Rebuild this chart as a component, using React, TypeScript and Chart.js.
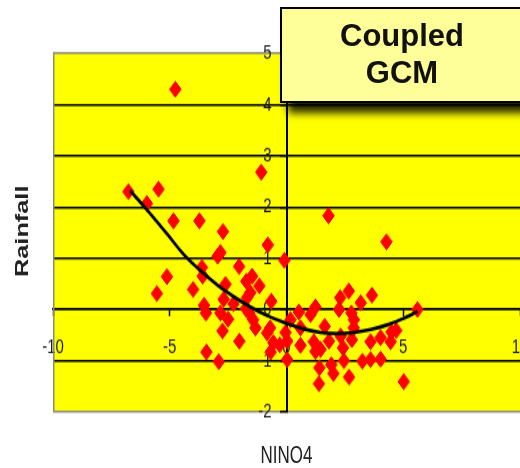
import React, { useEffect, useRef } from "react";
import { Chart, registerables } from "chart.js";

Chart.register(...registerables);

// ---- data ----
const nino4: number[] = [
  -4.76, -6.77, -5.48, -5.98, -4.84, -3.73, -2.72, -2.83, -2.95, -1.08,
  -0.8, -0.09, 1.8, 4.28, -5.12, -5.55, -4.0, -3.62, -3.59, -3.53,
  -3.45, -2.03, -1.72, -1.47, -1.16, -2.61, -2.69, -2.27, -2.83, -2.5,
  -2.74, -2.02, -3.43, -2.9, -1.69, -1.74, -1.6, -1.43, -1.33, -0.65,
  -0.83, -0.56, -0.68, -0.29, 0.03, -0.04, 0.53, 0.6, 1.24, 1.03,
  1.17, 1.46, 1.41, 1.39, 2.01, 1.92, 1.64, 1.82, 2.3, 2.25,
  2.67, 2.78, 2.89, 3.18, 3.66, 2.8, 2.42, 2.46, 2.68, 3.25,
  3.6, 4.03, 3.6, 4.03, 4.46, 4.7, 5.02, 5.61, 0.03, 1.24,
  -1.55, 0.17, 0.6, 2.88, 2.32, -0.7, 4.5,
];
const rainfall: number[] = [
  4.3, 2.3, 2.35, 2.07, 1.73, 1.73, 1.52, 1.11, 1.04, 2.68,
  1.26, 0.96, 1.83, 1.32, 0.64, 0.31, 0.39, 0.82, 0.65, 0.08,
  -0.07, 0.84, 0.55, 0.65, 0.46, 0.49, 0.2, 0.11, -0.07, -0.19,
  -0.42, -0.62, -0.83, -1.02, 0.23, 0.02, -0.07, -0.2, -0.36, 0.16,
  -0.46, -0.65, -0.83, -0.69, -0.98, -0.45, -0.05, -0.7, 0.05, -0.1,
  -0.63, -0.78, -1.14, -1.45, -1.25, -1.08, -0.33, -0.62, 0.23, 0.0,
  0.36, -0.07, -0.2, 0.13, 0.28, -0.59, -0.75, -1.0, -1.32, -1.01,
  -0.98, -0.97, -0.63, -0.55, -0.63, -0.41, -1.41, 0.0, -0.62, -0.82,
  0.33, -0.2, -0.36, -0.36, -0.52, -0.36, -0.44,
];
// trend curve
const trendX: number[] = [
  -6.7, -5.98, -5.12, -4.41, -3.69, -2.97, -2.26, -1.55, -0.83, -0.12,
  0.74, 1.46, 2.18, 2.89, 3.61, 4.32, 5.03, 5.61,
];
const trendY: number[] = [
  2.32, 1.95, 1.48, 1.08, 0.76, 0.48, 0.25, 0.05, -0.12, -0.25,
  -0.38, -0.45, -0.47, -0.45, -0.39, -0.3, -0.17, -0.04,
];
const xTicks: number[] = [-10, -5, 0, 5, 10];
const yTicks: number[] = [-2, -1, 0, 1, 2, 3, 4, 5];
const titleLines: string[] = ["Coupled", "GCM"];
const xTitle = "NINO4";
const yTitle = "Rainfall";

const W = 520;
const H = 468;
const CH = 342;
const SY = H / CH;
const FONT = '"Liberation Sans", Arial, Helvetica, sans-serif';

const plotBg = {
  id: "plotBg",
  beforeDraw(chart: any) {
    const { ctx, chartArea } = chart;
    const { left, top, right, bottom } = chartArea;
    ctx.save();
    ctx.fillStyle = "#ffff00";
    ctx.fillRect(left, top, right - left, bottom - top);
    ctx.restore();
  },
  beforeDatasetsDraw(chart: any) {
    const { ctx, chartArea } = chart;
    const { left, top, bottom } = chartArea;
    ctx.save();
    ctx.strokeStyle = "#8c8c7a";
    ctx.lineWidth = 1.5;
    ctx.beginPath();
    ctx.moveTo(left + 0.75, top);
    ctx.lineTo(left + 0.75, bottom);
    ctx.stroke();
    ctx.restore();
  },
};

export default function App() {
  const ref = useRef<HTMLCanvasElement | null>(null);

  useEffect(() => {
    if (!ref.current) return;
    const chart = new Chart(ref.current, {
      type: "scatter",
      data: {
        datasets: [
          {
            type: "line",
            label: "trend",
            data: trendX.map((x, i) => ({ x, y: trendY[i] })),
            borderColor: "#000000",
            borderWidth: 2.6,
            pointRadius: 0,
            tension: 0.4,
            fill: false,
            order: 0,
          } as any,
          {
            label: "points",
            data: nino4.map((x, i) => ({ x, y: rainfall[i] })),
            pointStyle: "rectRot",
            pointRadius: 5.8,
            backgroundColor: "#ff0000",
            borderColor: "#ff0000",
            borderWidth: 1,
            order: 1,
          },
        ],
      },
      options: {
        animation: false,
        responsive: false,
        devicePixelRatio: 1,
        layout: { autoPadding: false, padding: { left: 53, right: 0, top: 39, bottom: 41 } },
        plugins: {
          legend: { display: false },
          tooltip: { enabled: false },
          title: { display: false },
        },
        scales: {
          x: {
            type: "linear",
            position: { y: 0 } as any,
            min: -10,
            max: 10,
            afterBuildTicks: (s: any) => {
              s.ticks = xTicks.map((v) => ({ value: v }));
            },
            afterFit: (s: any) => {
              s.height = 0;
              s.paddingLeft = 0;
              s.paddingRight = 0;
              s.paddingTop = 0;
              s.paddingBottom = 0;
            },
            grid: {
              display: true,
              drawOnChartArea: false,
              drawTicks: true,
              tickLength: 4.5,
              tickColor: "#000",
              tickWidth: 1.5,
            },
            border: { display: true, color: "#000", width: 1.5 },
            ticks: {
              autoSkip: false,
              maxRotation: 0,
              padding: 14,
              color: "#1a1a1a",
              font: { family: FONT, size: 15 },
            },
          },
          y: {
            type: "linear",
            position: { x: 0 } as any,
            min: -2,
            max: 5,
            afterBuildTicks: (s: any) => {
              s.ticks = yTicks.map((v) => ({ value: v }));
            },
            afterFit: (s: any) => {
              s.width = 0;
              s.paddingLeft = 0;
              s.paddingRight = 0;
              s.paddingTop = 0;
              s.paddingBottom = 0;
            },
            grid: {
              display: true,
              drawOnChartArea: true,
              drawTicks: true,
              tickLength: 6,
              tickColor: "#000",
              tickWidth: 1.5,
              lineWidth: 1.5,
              color: (c: any) =>
                c.tick && (c.tick.value === 5 || c.tick.value === -2) ? "#8c8c7a" : "#000000",
            },
            border: { display: true, color: "#000", width: 2 },
            ticks: {
              color: "#1a1a1a",
              font: { family: FONT, size: 15 },
              // labels sit right-aligned on the crossing axis; an em space keeps them clear of it
              callback: (v: any) => `${v}\u2003`,
            },
          },
        },
      },
      plugins: [plotBg],
    });
    return () => chart.destroy();
  }, []);

  return (
    <div
      style={{
        position: "fixed",
        left: 0,
        top: 0,
        width: W,
        height: H,
        background: "#ffffff",
        overflow: "hidden",
      }}
    >
      <div
        style={{
          position: "absolute",
          left: 0,
          top: 0,
          width: W,
          height: CH,
          transform: `scaleY(${SY})`,
          transformOrigin: "0 0",
        }}
      >
        <canvas ref={ref} width={W} height={CH} style={{ display: "block" }} />
        <div
          style={{
            position: "absolute",
            left: 21.5,
            top: 169,
            transform: "translate(-50%, -50%) rotate(-90deg)",
            font: `bold 18.5px ${FONT}`,
            color: "#222",
            whiteSpace: "nowrap",
            lineHeight: "20px",
          }}
        >
          {yTitle}
        </div>
        <div
          style={{
            position: "absolute",
            left: 286.5,
            top: 332.5,
            transform: "translate(-50%, -50%)",
            font: `17px ${FONT}`,
            color: "#222",
            whiteSpace: "nowrap",
            lineHeight: "18px",
          }}
        >
          {xTitle}
        </div>
      </div>
      <div
        style={{
          position: "absolute",
          left: 280,
          top: 7,
          width: 244,
          height: 96,
          boxSizing: "border-box",
          border: "2px solid #000",
          background: "#ffff99",
          boxShadow: "8px 10px 8px rgba(0,0,0,0.85)",
          textAlign: "center",
          font: `bold 31px ${FONT}`,
          lineHeight: "37px",
          paddingTop: 8,
          color: "#111",
        }}
      >
        {titleLines.map((t) => (
          <div key={t}>{t}</div>
        ))}
      </div>
    </div>
  );
}
